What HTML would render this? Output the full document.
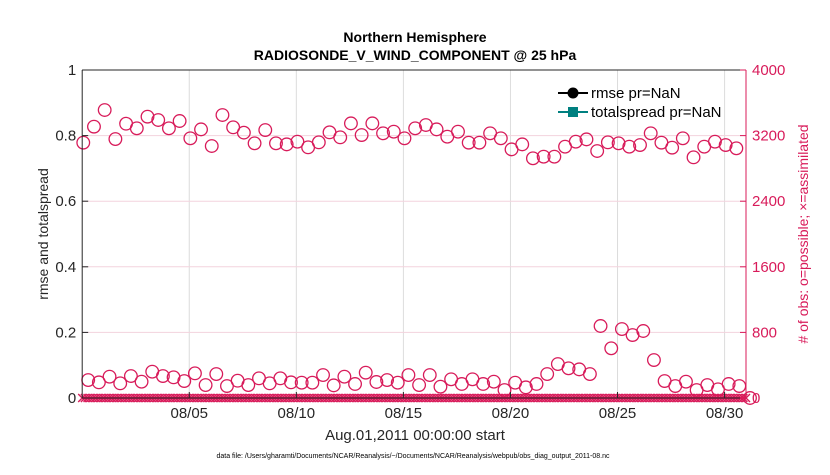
<!DOCTYPE html>
<html><head><meta charset="utf-8"><style>
body{margin:0;background:#fff;width:830px;height:470px;overflow:hidden;font-family:"Liberation Sans",Arial,sans-serif}
</style></head><body>
<svg id="chart" width="830" height="470" xmlns="http://www.w3.org/2000/svg" font-family="Liberation Sans, Arial, sans-serif">
<g id="grid"></g><g id="marks"></g><g id="axes"></g>
</svg>
<script>
const possibleUpper=[3114,3309,3512,3158,3345,3289,3431,3390,3289,3378,3167,3276,3073,3451,3301,3236,3106,3268,3106,3093,3126,3057,3118,3240,3179,3349,3207,3349,3228,3248,3167,3289,3329,3276,3187,3248,3114,3114,3228,3167,3032,3093,2923,2943,2943,3065,3126,3154,3012,3118,3106,3065,3085,3228,3114,3053,3167,2935,3065,3126,3085,3045];
const possibleLower=[219,191,260,179,268,199,321,268,252,207,301,158,292,146,211,158,240,179,240,191,187,187,280,154,260,171,309,195,219,187,280,158,280,138,228,171,228,171,199,97,187,130,171,292,414,362,349,292,878,606,841,768,817,463,207,146,199,97,158,106,171,146,0];
const dateTicks=[5,10,15,20,25,30];
const dateLabels=["08/05","08/10","08/15","08/20","08/25","08/30"];
const leftTicks=[0,0.2,0.4,0.6,0.8,1];
const leftLabels=["0","0.2","0.4","0.6","0.8","1"];
const rightTicks=[0,800,1600,2400,3200,4000];
const rightLabels=["0","800","1600","2400","3200","4000"];
const assimilatedCount=250;
const assimilatedValue=0;

const NS="http://www.w3.org/2000/svg";
const L=82.2,R=746,T=70,B=398;
const x=d=>L+(d-0)*(R-L)/31.0;
const yl=v=>B-v*(B-T);
const yr=v=>B-v/4000*(B-T);
function mk(p,tag,at){const e=document.createElementNS(NS,tag);for(const k in at)e.setAttribute(k,at[k]);p.appendChild(e);return e;}
const grid=document.getElementById('grid'),marks=document.getElementById('marks'),axes=document.getElementById('axes');
mk(grid,'rect',{x:L,y:T,width:R-L,height:B-T,fill:'#fff'});
dateTicks.forEach(d=>{const g=mk(grid,'line',{x1:x(d),x2:x(d),y1:T,y2:B,stroke:'#dcdcdc','stroke-width':1});

});
rightTicks.forEach(v=>{const g=mk(grid,'line',{x1:L,x2:R,y1:yr(v),y2:yr(v),stroke:'#f3d3dd','stroke-width':1});

});
const col='#d81b5a';
for(let i=0;i<assimilatedCount;i++){const t=i*31/(assimilatedCount-1);const cx=x(t),cy=yr(assimilatedValue);
const p=mk(marks,'path',{d:`M${cx-4},${cy-4}L${cx+4},${cy+4}M${cx-4},${cy+4}L${cx+4},${cy-4}`,stroke:col,'stroke-width':1.4,fill:'none'});

}
possibleUpper.forEach((v,i)=>{const c=mk(marks,'circle',{cx:x(0.05+i*0.5),cy:yr(v),r:6.3,fill:'none',stroke:col,'stroke-width':1.3});

});
possibleLower.forEach((v,i)=>{const c=mk(marks,'circle',{cx:x(0.28+i*0.4985),cy:yr(v),r:6.3,fill:'none',stroke:col,'stroke-width':1.3});

});
mk(axes,'line',{x1:L,x2:L,y1:T,y2:B,stroke:'#262626','stroke-width':1});
mk(axes,'line',{x1:L,x2:R,y1:B,y2:B,stroke:'#262626','stroke-width':1});
mk(axes,'line',{x1:L,x2:R,y1:T,y2:T,stroke:'#262626','stroke-width':1});
mk(axes,'line',{x1:R,x2:R,y1:T,y2:B,stroke:col,'stroke-width':1});
leftTicks.forEach((v,i)=>{mk(axes,'line',{x1:L,x2:L+6,y1:yl(v),y2:yl(v),stroke:'#262626'});
const t=mk(axes,'text',{x:L-6,y:yl(v)+5,'text-anchor':'end','font-size':15,fill:'#262626'});t.textContent=leftLabels[i];

});
rightTicks.forEach((v,i)=>{mk(axes,'line',{x1:R-6,x2:R,y1:yr(v),y2:yr(v),stroke:col});
const t=mk(axes,'text',{x:R+6,y:yr(v)+5,'font-size':15,fill:col});t.textContent=rightLabels[i];

});
dateTicks.forEach((d,i)=>{mk(axes,'line',{x1:x(d),x2:x(d),y1:B,y2:B-6,stroke:'#262626'});
const t=mk(axes,'text',{x:x(d),y:B+20,'text-anchor':'middle','font-size':15,fill:'#262626'});t.textContent=dateLabels[i];

});
</script>
<svg style="position:absolute;left:0;top:0" width="830" height="470" xmlns="http://www.w3.org/2000/svg" font-family="Liberation Sans, Arial, sans-serif">
<text x="415" y="42" text-anchor="middle" font-size="14" font-weight="bold" fill="#000">Northern Hemisphere</text>
<text x="415" y="60" text-anchor="middle" font-size="14" font-weight="bold" fill="#000">RADIOSONDE_V_WIND_COMPONENT @ 25 hPa</text>
<text x="415" y="440" text-anchor="middle" font-size="15" fill="#262626">Aug.01,2011 00:00:00 start</text>
<text transform="translate(48,234) rotate(-90)" text-anchor="middle" font-size="14" fill="#262626">rmse and totalspread</text>
<text transform="translate(808,234) rotate(-90)" text-anchor="middle" font-size="14" fill="#d81b5a"># of obs: o=possible; ×=assimilated</text>
<text x="413" y="458" text-anchor="middle" font-size="7" fill="#000">data file: /Users/gharamti/Documents/NCAR/Reanalysis/~/Documents/NCAR/Reanalysis/webpub/obs_diag_output_2011-08.nc</text>
<g>
<g><line x1="558" x2="588" y1="93" y2="93" stroke="#000" stroke-width="2"/><circle cx="573" cy="93" r="5.5" fill="#000"/><text x="591" y="98" font-size="15" fill="#000">rmse pr=NaN</text></g>
<g><line x1="558" x2="588" y1="112" y2="112" stroke="#008080" stroke-width="2"/><rect x="568" y="107" width="10" height="10" fill="#008080"/><text x="591" y="117" font-size="15" fill="#000">totalspread pr=NaN</text></g>
</g>
</svg>
</body></html>
